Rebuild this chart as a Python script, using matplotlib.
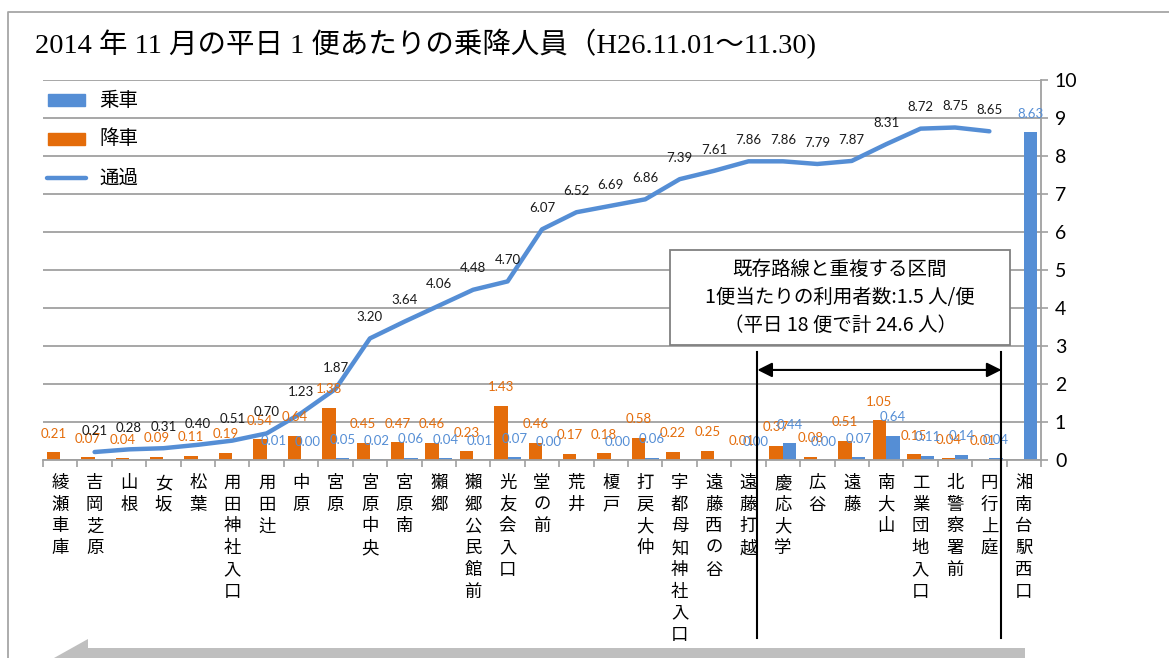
import matplotlib
matplotlib.use('Agg')
import matplotlib.pyplot as plt
from matplotlib.patches import Rectangle, Polygon
from matplotlib.lines import Line2D
import numpy as np

# ---------------- data ----------------
stops = ['綾瀬車庫', '吉岡芝原', '山根', '女坂', '松葉', '用田神社入口', '用田辻', '中原',
         '宮原', '宮原中央', '宮原南', '獺郷', '獺郷公民館前', '光友会入口', '堂の前', '荒井',
         '榎戸', '打戻大仲', '宇都母知神社入口', '遠藤西の谷', '遠藤打越', '慶応大学', '広谷',
         '遠藤', '南大山', '工業団地入口', '北警察署前', '円行上庭', '湘南台駅西口']

alight = [0.21, 0.07, 0.04, 0.09, 0.11, 0.19, 0.54, 0.64, 1.38, 0.45, 0.47, 0.46, 0.23,
          1.43, 0.46, 0.17, 0.18, 0.58, 0.22, 0.25, 0.01, 0.37, 0.08, 0.51, 1.05, 0.15,
          0.04, 0.01, None]

board = [None, None, None, None, None, None, 0.01, 0.00, 0.05, 0.02, 0.06, 0.04, 0.01,
         0.07, 0.00, None, 0.00, 0.06, None, None, 0.00, 0.44, 0.00, 0.07, 0.64, 0.11,
         0.14, 0.04, 8.63]

through = [None, 0.21, 0.28, 0.31, 0.40, 0.51, 0.70, 1.23, 1.87, 3.20, 3.64, 4.06, 4.48,
           4.70, 6.07, 6.52, 6.69, 6.86, 7.39, 7.61, 7.86, 7.86, 7.79, 7.87, 8.31, 8.72,
           8.75, 8.65, None]

yticks = [0, 1, 2, 3, 4, 5, 6, 7, 8, 9, 10]
series_names = ['乗車', '降車', '通過']
title = '2014 年 11 月の平日 1 便あたりの乗降人員（H26.11.01～11.30)'
box_lines = ['既存路線と重複する区間', '1便当たりの利用者数:1.5 人/便', '（平日 18 便で計 24.6 人）']

# ---------------- style ----------------
BLUE = '#558ED5'
ORANGE = '#E46C0A'
GRID = '#A0A0A0'
JP = ['Noto Sans CJK JP', 'DejaVu Sans']
NUM = ['Lato', 'DejaVu Sans']

W, H = 1169, 658
fig = plt.figure(figsize=(W / 100, H / 100), dpi=100)


def fx(px):
    return px / W


def fy(py):
    return 1 - py / H


ax = fig.add_axes([fx(43), fy(460), (1041 - 43) / W, (460 - 80) / H])
ax.set_xlim(-0.5, 28.5)
ax.set_ylim(0, 10)

bw = 0.39

# bars
ax_x_a = [i - bw / 2 for i, v in enumerate(alight) if v is not None]
ax_v_a = [v for v in alight if v is not None]
ax_x_b = [i + bw / 2 for i, v in enumerate(board) if v is not None]
ax_v_b = [v for v in board if v is not None]
ax.bar(ax_x_a, ax_v_a, bw, color=ORANGE, zorder=2)
ax.bar(ax_x_b, ax_v_b, bw, color=BLUE, zorder=2)

for xi, v in zip(ax_x_a, ax_v_a):
    ax.annotate(f'{v:.2f}', (xi, v), xytext=(0, 9), textcoords='offset points',
                ha='center', va='bottom', fontsize=9.5, color=ORANGE, family=NUM, zorder=6)
for xi, v in zip(ax_x_b, ax_v_b):
    ax.annotate(f'{v:.2f}', (xi, v), xytext=(0, 9), textcoords='offset points',
                ha='center', va='bottom', fontsize=9.5, color=BLUE, family=NUM, zorder=6)

# line
lx = [i for i, v in enumerate(through) if v is not None]
lv = [v for v in through if v is not None]
ax.plot(lx, lv, color=BLUE, lw=3.2, solid_capstyle='round', solid_joinstyle='round', zorder=5)
for xi, v in zip(lx, lv):
    ax.annotate(f'{v:.2f}', (xi, v), xytext=(0, 11), textcoords='offset points',
                ha='center', va='bottom', fontsize=9.5, color='#1a1a1a', family=NUM, zorder=6)

# axes styling
ax.set_yticks(yticks)
ax.yaxis.tick_right()
ax.tick_params(axis='y', length=5, color=GRID, width=1.2, labelsize=14, pad=5)
for t in ax.get_yticklabels():
    t.set_family(NUM)
ax.yaxis.grid(True, color=GRID, lw=1.3)
ax.set_axisbelow(True)
ax.set_xticks(np.arange(-0.5, len(stops), 1.0))
ax.set_xticklabels([])
ax.tick_params(axis='x', length=5, color=GRID, width=1.2, direction='out')
for s in ['left', 'top']:
    ax.spines[s].set_visible(False)
for s in ['right', 'bottom']:
    ax.spines[s].set_color(GRID)
    ax.spines[s].set_linewidth(1.3)

# vertical stop labels (one character per line)
pitch = 21.7
for i, name in enumerate(stops):
    for k, ch in enumerate(name):
        ax.annotate(ch, xy=(i, 0), xycoords=('data', 'axes fraction'),
                    xytext=(0, -(23 + k * pitch)), textcoords='offset pixels',
                    ha='center', va='center', fontsize=12.5, family=JP, color='black',
                    annotation_clip=False)

# legend (manual)
leg_y = [100, 138.5, 178]
fig.patches.append(Rectangle((fx(48), fy(leg_y[0] + 6)), 37 / W, 12 / H,
                             transform=fig.transFigure, color=BLUE))
fig.patches.append(Rectangle((fx(48), fy(leg_y[1] + 6)), 37 / W, 12 / H,
                             transform=fig.transFigure, color=ORANGE))
fig.lines.append(Line2D([fx(47), fx(86)], [fy(leg_y[2]), fy(leg_y[2])],
                        transform=fig.transFigure, color=BLUE, lw=3.2, solid_capstyle='round'))
for yy, name in zip(leg_y, series_names):
    fig.text(fx(99), fy(yy), name, ha='left', va='center', fontsize=14, family=JP)

# title
fig.text(fx(35), fy(44), title, ha='left', va='center', fontsize=20.5,
         family=['Liberation Serif', 'Noto Sans CJK JP'])

# annotation box
fig.patches.append(Rectangle((fx(670), fy(345)), 340 / W, 95 / H, transform=fig.transFigure,
                             facecolor='white', edgecolor='#808080', lw=1.3, zorder=7))
for yy, line in zip([269, 297, 325], box_lines):
    fig.text(fx(840), fy(yy), line, ha='center', va='center', fontsize=14, family=JP,
             zorder=8)

# overlapping-section bracket (vertical lines + double arrow)
xl, xr = 20.26, 27.35
for xv in (xl, xr):
    ax.plot([xv, xv], [2.84, -4.68], color='black', lw=1.5, clip_on=False, zorder=7)
ax.annotate('', xy=(xl, 2.37), xytext=(xr, 2.37),
            arrowprops=dict(arrowstyle='<|-|>', color='black', lw=1.5, mutation_scale=22,
                            shrinkA=0, shrinkB=0), annotation_clip=False, zorder=7)

# big grey direction arrow at bottom
pts = [(54, 658), (88, 639), (88, 648), (1025, 648), (1025, 668), (88, 668), (88, 677)]
fig.patches.append(Polygon([(fx(a), fy(b)) for a, b in pts], closed=True,
                           transform=fig.transFigure, facecolor='#BFBFBF', edgecolor='none'))

# outer frame
fig.lines.append(Line2D([fx(8), fx(8), fx(1169)], [fy(658), fy(12), fy(12)],
                        transform=fig.transFigure, color='#A6A6A6', lw=1.3))

fig.savefig('out.png', dpi=100)
